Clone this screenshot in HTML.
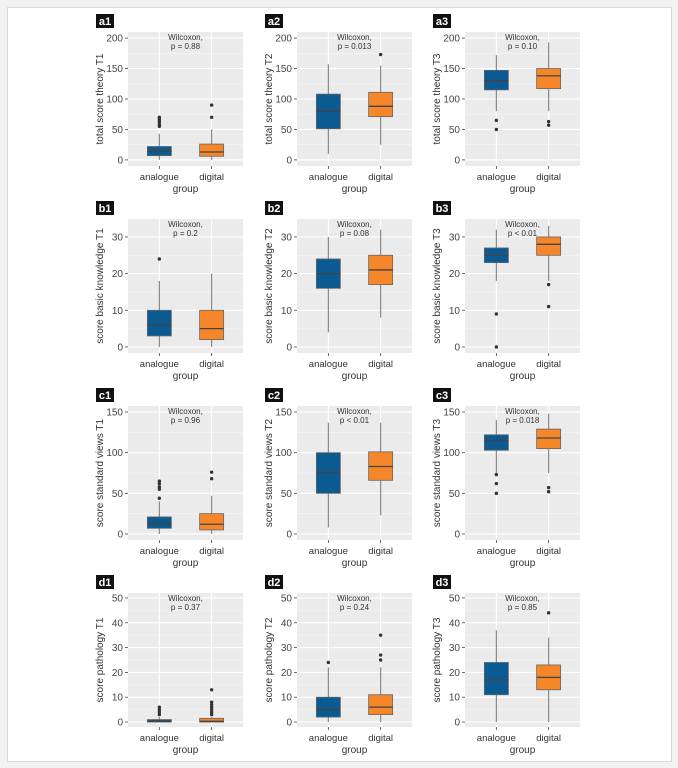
<!DOCTYPE html>
<html><head><meta charset="utf-8"><style>
body{margin:0;background:#f2f2f2;}
#frame{position:absolute;left:7px;top:7px;width:663px;height:753px;background:#fff;border:1px solid #d8d8d8;}
svg{position:absolute;left:0;top:0;font-family:"Liberation Sans","DejaVu Sans",sans-serif;}
</style></head><body>
<div id="frame"></div>
<svg id="fig" width="678" height="768"></svg>
<script>
const groups = ["analogue","digital"];
const panelIds = ["a1","a2","a3","b1","b2","b3","c1","c2","c3","d1","d2","d3"];
const yTitles = ["total score theory T1","total score theory T2","total score theory T3",
 "score basic knowledge T1","score basic knowledge T2","score basic knowledge T3",
 "score standard views T1","score standard views T2","score standard views T3",
 "score pathology T1","score pathology T2","score pathology T3"];
const pTexts = ["p = 0.88","p = 0.013","p = 0.10","p = 0.2","p = 0.08","p < 0.01","p = 0.96","p < 0.01","p = 0.018","p = 0.37","p = 0.24","p = 0.85"];
const rowDomains = [[-10,210],[-1.65,34.9],[-7.4,157.4],[-2,52]];
const rowTicks = [[0,50,100,150,200],[0,10,20,30],[0,50,100,150],[0,10,20,30,40,50]];
const rowMinor = [[25,75,125,175],[5,15,25],[25,75,125],[5,15,25,35,45]];
// stats per panel: [lowWhisker, q1, median, q3, highWhisker] for analogue, digital
const analogueStats = [[0,7,14,22,43],[10,51,80,108,157],[80,115,130,147,172],
 [0,3,6,10,18],[4,16,20,24,30],[18,23,25,27,32],
 [0,7,13,21,40],[8,50,76,100,137],[75,103,115,122,140],
 [0,0,0.3,1,2],[0,2,5,10,22],[0,11,17,24,37]];
const digitalStats = [[0,6,13,26,50],[25,71,88,111,155],[80,117,138,150,193],
 [0,2,5,10,20],[8,17,21,25,32],[18,25,28,30,33],
 [0,5,12,25,47],[23,66,83,101,137],[75,105,118,129,148],
 [0,0,0.3,1.5,2],[0,3,6,11,22],[0,13,18,23,34]];
const analogueOut = [[55,58,62,65,68,70],[],[65,50],[24],[],[9,0],[44,55,58,62,65],[],[73,62,50],[3,4,5,6],[24],[]];
const digitalOut = [[70,90],[173],[63,57],[],[],[17,11],[68,76],[],[57,52],[3,4,5,6,7,8,13],[25,27,35],[44]];
const colors = ["#0b5a92","#f5872a"];

const NS="http://www.w3.org/2000/svg";
const svg=document.getElementById('fig');
function mk(tag,attrs,parent,text){const e=document.createElementNS(NS,tag);for(const k in attrs)e.setAttribute(k,attrs[k]);if(text!==undefined)e.textContent=text;(parent||svg).appendChild(e);return e;}
const colX=[128,297,465], rowY=[32,219,406,593], PW=115, PH=134;
panelIds.forEach((id,i)=>{
  const r=Math.floor(i/3), c=i%3;
  const px=colX[c], py=rowY[r];
  const [lo,hi]=rowDomains[r];
  const y=v=>py+PH-(v-lo)/(hi-lo)*PH;
  const x=k=>px+(k+1-0.4)/2.2*PW;
  const g=mk('g',{});
  
  
  const lab=mk('rect',{x:px-32,y:py-18,width:18,height:14,fill:'#111'},g);
  
  
  mk('text',{x:px-23,y:py-7,'font-size':11,'font-weight':'bold',fill:'#fff','text-anchor':'middle'},g,id);
  const bg=mk('rect',{x:px,y:py,width:PW,height:PH,fill:'#ebebeb'},g);
  
  
  rowMinor[r].forEach(v=>mk('line',{x1:px,x2:px+PW,y1:y(v),y2:y(v),stroke:'#f5f5f5','stroke-width':0.6},g));
  rowTicks[r].forEach(v=>{
    mk('line',{x1:px,x2:px+PW,y1:y(v),y2:y(v),stroke:'#fff','stroke-width':1.1},g);
    mk('line',{x1:px-3,x2:px,y1:y(v),y2:y(v),stroke:'#444','stroke-width':0.8},g);
    const t=mk('text',{x:px-5,y:y(v)+3.5,'font-size':10,fill:'#444','text-anchor':'end'},g,String(v));
    
    
  });
  groups.forEach((gname,k)=>{
    const cx=x(k);
    mk('line',{x1:cx,x2:cx,y1:py,y2:py+PH,stroke:'#fff','stroke-width':1.1},g);
    mk('line',{x1:cx,x2:cx,y1:py+PH,y2:py+PH+3,stroke:'#444','stroke-width':0.8},g);
    const tl=mk('text',{x:cx,y:py+PH+14,'font-size':9.5,fill:'#333','text-anchor':'middle'},g,gname);
    
    
    const s=(k===0?analogueStats:digitalStats)[i];
    const out=(k===0?analogueOut:digitalOut)[i];
    mk('line',{x1:cx,x2:cx,y1:y(s[0]),y2:y(s[1]),stroke:'#888','stroke-width':1.2},g);
    mk('line',{x1:cx,x2:cx,y1:y(s[3]),y2:y(s[4]),stroke:'#888','stroke-width':1.2},g);
    const b=mk('rect',{x:cx-12,y:y(s[3]),width:24,height:Math.max(1,y(s[1])-y(s[3])),fill:colors[k],stroke:'#666','stroke-width':0.8},g);
    
    
    mk('line',{x1:cx-12,x2:cx+12,y1:y(s[2]),y2:y(s[2]),stroke:'#444','stroke-width':1.3},g);
    out.forEach(v=>{
      const o=mk('circle',{cx:cx,cy:y(v),r:1.7,fill:'#333'},g);
      
      
    });
  });
  const pcx=px+PW/2;
  mk('text',{x:pcx,y:py+8,'font-size':8,fill:'#333','text-anchor':'middle'},g,'Wilcoxon,');
  const pt=mk('text',{x:pcx,y:py+17,'font-size':8,fill:'#333','text-anchor':'middle'},g,pTexts[i]);
  
  
  const xt=mk('text',{x:pcx,y:py+PH+26,'font-size':10,fill:'#333','text-anchor':'middle'},g,'group');
  
  
  const yt=mk('text',{x:0,y:0,'font-size':10,fill:'#333','text-anchor':'middle',transform:`translate(${px-25},${py+PH/2}) rotate(-90)`},g,yTitles[i]);
  
  
});
</script>
</body></html>
